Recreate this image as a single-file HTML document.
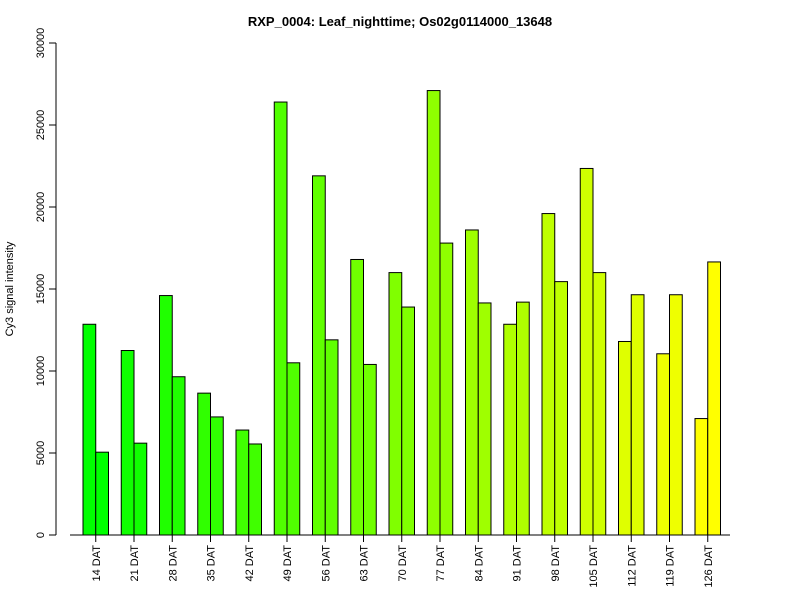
<!DOCTYPE html>
<html><head><meta charset="utf-8"><style>body{margin:0;background:#fff}svg{display:block}text{font-family:"Liberation Sans",sans-serif}</style></head>
<body>
<svg id="chart" width="800" height="600">
<text x="400" y="26" text-anchor="middle" font-size="13" font-weight="bold">RXP_0004: Leaf_nighttime; Os02g0114000_13648</text>
<text transform="translate(13,289) rotate(-90)" text-anchor="middle" font-size="11">Cy3 signal intensity</text>
<g id="yaxis"></g>
<g id="bars"></g>
<g id="xaxis"></g>
</svg>
<script>
const categories=["14 DAT","21 DAT","28 DAT","35 DAT","42 DAT","49 DAT","56 DAT","63 DAT","70 DAT","77 DAT","84 DAT","91 DAT","98 DAT","105 DAT","112 DAT","119 DAT","126 DAT"];
const series1=[12850,11250,14600,8650,6400,26400,21900,16800,16000,27100,18600,12850,19600,22350,11800,11050,7100];
const series2=[5050,5600,9650,7200,5550,10500,11900,10400,13900,17800,14150,14200,15450,16000,14650,14650,16650];
const yTicks=[0,5000,10000,15000,20000,25000,30000];
const NS="http://www.w3.org/2000/svg";
const y0=535,yTop=43,yMax=30000;
function ys(v){return y0-(v/yMax)*(y0-yTop);}
const bw=12.75,x0=83,gap=38.25;
function xs(i,j){return x0+i*gap+j*bw;}
function mk(t,a,p){const e=document.createElementNS(NS,t);for(const k in a)e.setAttribute(k,a[k]);p.appendChild(e);return e;}
const ya=document.getElementById('yaxis');
mk('line',{x1:56,x2:56,y1:ys(0),y2:ys(30000),stroke:'#000'},ya);
yTicks.forEach(v=>{
 const l=mk('line',{x1:49,x2:56,y1:ys(v),y2:ys(v),stroke:'#000'},ya);
 
 
 const t=mk('text',{transform:`translate(44,${ys(v)}) rotate(-90)`,'text-anchor':'middle','font-size':11},ya);
 t.textContent=v;
 
 
});
const bg=document.getElementById('bars');
const n=categories.length;
categories.forEach((c,i)=>{
 const f=i/(n-1);
 const col=`rgb(${Math.round(255*f)},255,0)`;
 [series1[i],series2[i]].forEach((v,j)=>{
  const r=mk('rect',{x:xs(i,j),y:ys(v),width:bw,height:ys(0)-ys(v),fill:col,stroke:'#000','stroke-width':1},bg);
  
  
 });
});
const xa=document.getElementById('xaxis');
mk('line',{x1:70,x2:730,y1:y0,y2:y0,stroke:'#000'},xa);
categories.forEach((c,i)=>{
 const cx=xs(i,1);
 const l=mk('line',{x1:cx,x2:cx,y1:y0,y2:y0+7,stroke:'#000'},xa);
 
 
 const t=mk('text',{transform:`translate(${cx+4},${y0+10}) rotate(-90)`,'text-anchor':'end','font-size':11},xa);
 t.textContent=c;
 
 
});
</script>
</body></html>
